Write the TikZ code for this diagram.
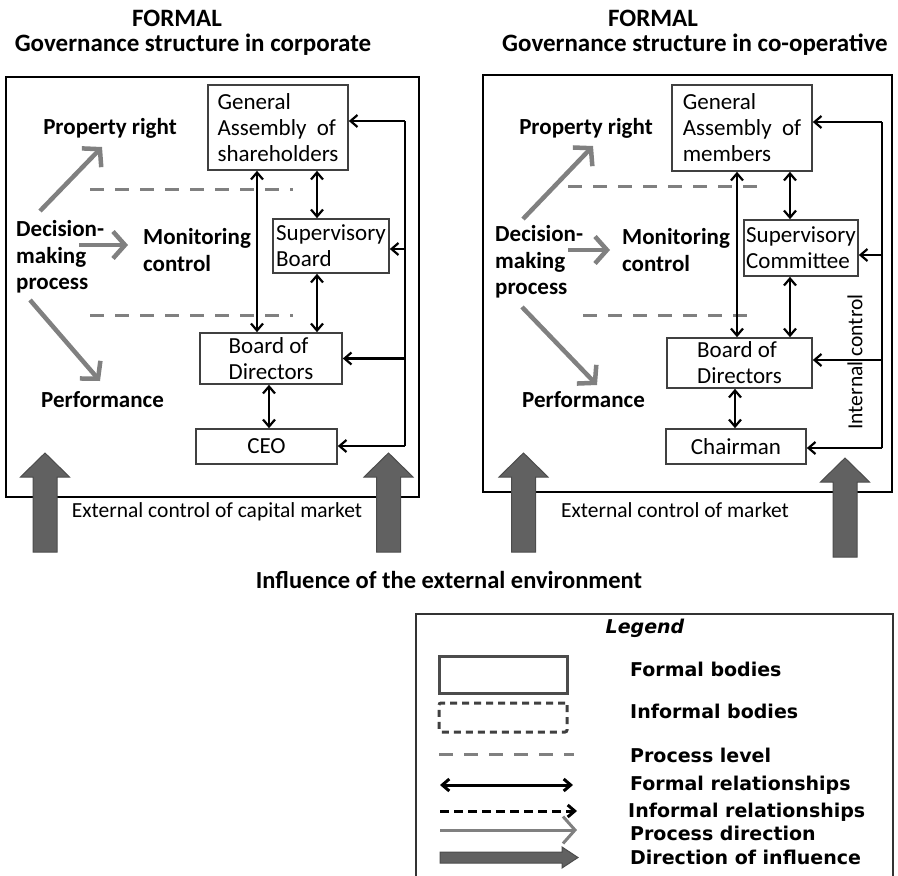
\documentclass[tikz,border=0pt]{standalone}
\usepackage{fontspec}
\setmainfont{Carlito}
\newfontfamily\legfont{DejaVu Sans}
\usetikzlibrary{arrows.meta}

\begin{document}
\begin{tikzpicture}[x=1pt, y=-1pt,
  body/.style={draw=black!75, line width=1.6pt, align=left, inner sep=0pt, font=\fontsize{23}{26}\selectfont},
  lbl/.style={font=\bfseries\fontsize{23}{26.5}\selectfont, align=left, inner sep=0pt},
  ttl/.style={font=\bfseries\fontsize{25}{28}\selectfont, inner sep=0pt},
  txt/.style={font=\fontsize{21.5}{24}\selectfont, inner sep=0pt},
  leg/.style={font=\legfont\bfseries\fontsize{19}{21}\selectfont, anchor=west, inner sep=0pt},
  formal/.style={line width=2.2pt, {Straight Barb[length=7pt,width=12pt]}-{Straight Barb[length=7pt,width=12pt]}},
  feed/.style={line width=2.2pt, -{Straight Barb[length=7pt,width=12pt]}},
  procdir/.style={draw=black!50, line width=4.5pt, -{Straight Barb[length=12pt,width=27pt]}},
  level/.style={draw=black!50, line width=3pt, dash pattern=on 14pt off 11pt},
  influence/.style={fill=black!62, draw=black!70, line width=1pt}]

\useasboundingbox (0,0) rectangle (898,876);

% left: corporate
\node[ttl] (formL) at (177,18) {FORMAL};
\node[ttl] (titL) at (193,45) {Governance structure in corporate};
\draw[line width=2.5pt] (6,77) rectangle (419,497);

\node[body, minimum width=140pt, minimum height=85pt] (gaL) at (278,127.5) {General\\Assembly~~of\\shareholders};
\node[body, minimum width=116pt, minimum height=54pt] (sbL) at (331,246) {Supervisory\\Board};
\node[body, minimum width=142pt, minimum height=51pt] (bodL) at (271,358.5) {Board of\\Directors};
\node[body, minimum width=141pt, minimum height=35pt] (ceoL) at (266.5,446.5) {CEO};

\node[lbl] (prL) at (110,128) {Property right};
\node[lbl, anchor=west] (dmL) at (16,257) {Decision-\\making\\process};
\node[lbl, anchor=west] (mcL) at (143,250) {Monitoring\\control};
\node[lbl, anchor=west] (pfL) at (41,400) {Performance};
\node[txt] (ecL) at (217,512) {External control of capital market};

\coordinate (u0L) at (40,211);  \coordinate (u1L) at (102,147);
\coordinate (m0L) at (79,245);  \coordinate (m1L) at (128,245);
\coordinate (d0L) at (30,300);  \coordinate (d1L) at (100,381);
\draw[procdir] (u0L) -- (u1L);
\draw[procdir] (m0L) -- (m1L);
\draw[procdir] (d0L) -- (d1L);
\draw[level] (90,189) -- (293,189);
\draw[level] (90,315) -- (293,315);

\coordinate (aL) at (257,0); \coordinate (bL) at (317,0); \coordinate (cL) at (269,0);
\draw[formal] (gaL.south -| aL) -- (bodL.north -| aL);
\draw[formal] (gaL.south -| bL) -- (sbL.north -| bL);
\draw[formal] (sbL.south -| bL) -- (bodL.north -| bL);
\draw[formal] (bodL.south -| cL) -- (ceoL.north -| cL);

\coordinate (railL) at (405,121); \coordinate (railLb) at (405,446);
\draw[line width=2.2pt] (railL) -- (railLb);
\draw[feed] (railL) -- (railL -| gaL.east);
\draw[feed] (railL |- 0,249) -- (sbL.east |- 0,249);
\draw[feed] (railL |- bodL.east) -- (bodL.east);
\draw[feed] (railLb) -- (railLb -| ceoL.east);

% right: co-operative
\node[ttl] (formR) at (653,18) {FORMAL};
\node[ttl] (titR) at (695,45) {Governance structure in co-operative};
\draw[line width=2.5pt] (483,75) rectangle (892,492);

\node[body, minimum width=140pt, minimum height=86pt] (gaR) at (742,128) {General\\Assembly~~of\\members};
\node[body, minimum width=114pt, minimum height=56pt] (scR) at (801,248) {Supervisory\\Committee};
\node[body, minimum width=145pt, minimum height=50pt] (bodR) at (739.5,363) {Board of\\Directors};
\node[body, minimum width=140pt, minimum height=35pt] (chR) at (736,446.5) {Chairman};

\node[lbl] (prR) at (586,128) {Property right};
\node[lbl, anchor=west] (dmR) at (495,262) {Decision-\\making\\process};
\node[lbl, anchor=west] (mcR) at (622,250) {Monitoring\\control};
\node[lbl, anchor=west] (pfR) at (522,400) {Performance};
\node[txt] (ecR) at (675,510) {External control of market};
\node[txt, rotate=90] (icR) at (855,362) {Internal control};

\coordinate (u0R) at (523,219); \coordinate (u1R) at (593,146);
\coordinate (m0R) at (568,250); \coordinate (m1R) at (610,250);
\coordinate (d0R) at (522,307); \coordinate (d1R) at (597,385);
\draw[procdir] (u0R) -- (u1R);
\draw[procdir] (m0R) -- (m1R);
\draw[procdir] (d0R) -- (d1R);
\draw[level] (568,186) -- (767,186);
\draw[level] (583,315) -- (758,315);

\coordinate (aR) at (737,0); \coordinate (bR) at (790,0); \coordinate (cR) at (735,0);
\draw[formal] (gaR.south -| aR) -- (bodR.north -| aR);
\draw[formal] (gaR.south -| bR) -- (scR.north -| bR);
\draw[formal] (scR.south -| bR) -- (bodR.north -| bR);
\draw[formal] (bodR.south -| cR) -- (chR.north -| cR);

\coordinate (railR) at (882,122); \coordinate (railRb) at (882,448);
\draw[line width=2.2pt] (railR) -- (railRb);
\draw[feed] (railR) -- (railR -| gaR.east);
\draw[feed] (railR |- 0,255) -- (scR.east |- 0,255);
\draw[feed] (railR |- 0,360) -- (bodR.east |- 0,360);
\draw[feed] (railRb) -- (railRb -| chR.east);

% influence arrows
\foreach \x/\t/\b in {45/453/552, 388.5/453/552, 523.5/453/552, 845/458/557}
  \filldraw[influence] (\x-12,\b) -- (\x-12,\t+24) -- (\x-24.5,\t+24) -- (\x,\t)
    -- (\x+24.5,\t+24) -- (\x+12,\t+24) -- (\x+12,\b) -- cycle;

\node[font=\bfseries\fontsize{24.5}{27}\selectfont] (infl) at (449,580) {Influence of the external environment};

% legend
\draw[line width=1.5pt, draw=black!80] (416,876) -- (416,614) -- (893,614) -- (893,876);
\node[font=\legfont\bfseries\itshape\fontsize{19}{22}\selectfont] (legT) at (645,628) {Legend};
\node[draw=black!70, line width=3pt, minimum width=128pt, minimum height=37pt] (fbS) at (503,674.5) {};
\node[draw=black!75, line width=3pt, dash pattern=on 7pt off 5pt, rounded corners=2pt, minimum width=128pt, minimum height=29pt] (ibS) at (503,717.5) {};
\coordinate (l1a) at (439,754); \coordinate (l1b) at (574,754);
\coordinate (l2a) at (440,785); \coordinate (l2b) at (573,785);
\coordinate (l3a) at (440,811); \coordinate (l3b) at (577,811);
\coordinate (l4a) at (440,830); \coordinate (l4b) at (577,830);
\draw[level] (l1a) -- (l1b);
\draw[formal, line width=3pt] (l2a) -- (l2b);
\draw[feed, line width=3pt, dash pattern=on 9pt off 5pt] (l3a) -- (l3b);
\draw[procdir, line width=3pt] (l4a) -- (l4b);
\filldraw[influence] (440,852) -- (562,852) -- (562,847) -- (578,857.5) -- (562,868) -- (562,863) -- (440,863) -- cycle;

\node[leg] (fbT) at (630,669) {Formal bodies};
\node[leg] (ibT) at (630,711) {Informal bodies};
\node[leg] (plT) at (630,755) {Process level};
\node[leg] (frT) at (630,785) {Formal relationships};
\node[leg] (irT) at (628,812) {Informal relationships};
\node[leg] (pdT) at (630,833) {Process direction};
\node[leg] (diT) at (630,857) {Direction of influence};
\end{tikzpicture}
\end{document}
